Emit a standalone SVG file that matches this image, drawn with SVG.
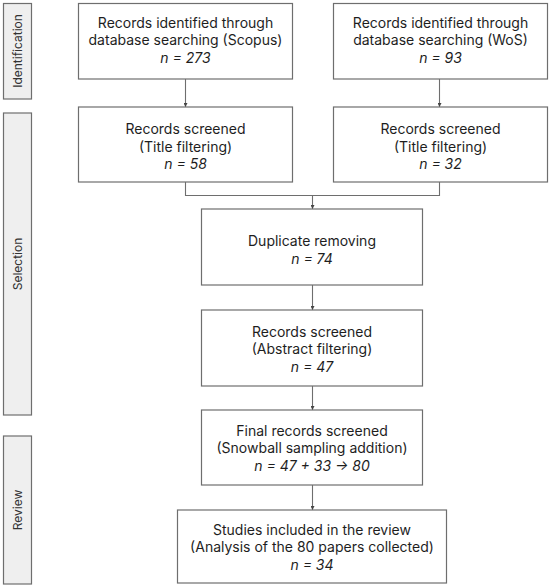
<svg xmlns="http://www.w3.org/2000/svg" width="550" height="587" viewBox="0 0 550 587">
<defs>
<style>
.box{fill:#fff;stroke:#6e6e6e;stroke-width:1.2}
.lab{fill:#efefef;stroke:#6e6e6e;stroke-width:1.2}
.t{font-family:Inter,"Liberation Sans",sans-serif;font-size:14px;fill:#1e1e1e;text-anchor:middle}
.n{font-style:italic}
.lt{font-family:Inter,"Liberation Sans",sans-serif;font-size:12px;fill:#333;text-anchor:middle}
.c{fill:none;stroke:#6e6e6e;stroke-width:1.1}
</style>
<marker id="ah" markerWidth="4" markerHeight="4" refX="4" refY="2" orient="auto" markerUnits="userSpaceOnUse">
<path d="M0,0 L4,2 L0,4 Z" fill="#444"/>
</marker>
</defs>
<rect width="550" height="587" fill="#fff"/>
<g id="label-identification">
<rect class="lab" x="3.5" y="3.5" width="28" height="95.5"/>
<text class="lt" transform="translate(21.5,51) rotate(-90)">Identification</text>
</g>
<g id="label-selection">
<rect class="lab" x="3.5" y="113" width="28" height="302"/>
<text class="lt" transform="translate(21.5,264) rotate(-90)">Selection</text>
</g>
<g id="label-review">
<rect class="lab" x="3.5" y="436" width="28" height="148"/>
<text class="lt" transform="translate(21.5,510) rotate(-90)">Review</text>
</g>
<g id="connectors">
<line class="c" x1="185.5" y1="79" x2="185.5" y2="107" marker-end="url(#ah)"/>
<line class="c" x1="439.5" y1="79" x2="439.5" y2="107" marker-end="url(#ah)"/>
<polyline class="c" points="185.5,182 185.5,195.5 439.5,195.5 439.5,182"/>
<line class="c" x1="312.5" y1="195.5" x2="312.5" y2="209" marker-end="url(#ah)"/>
<line class="c" x1="312.5" y1="285" x2="312.5" y2="310" marker-end="url(#ah)"/>
<line class="c" x1="312.5" y1="386" x2="312.5" y2="410" marker-end="url(#ah)"/>
<line class="c" x1="312.5" y1="485" x2="312.5" y2="510" marker-end="url(#ah)"/>
</g>
<g id="scopus">
<rect class="box" x="78.5" y="3.5" width="214" height="75.5"/>
<text class="t" x="185.5" y="27.5">Records identified through</text>
<text class="t" x="185.5" y="45">database searching (Scopus)</text>
<text class="t n" x="185.5" y="62.5">n = 273</text>
</g>
<g id="wos">
<rect class="box" x="333.5" y="3.5" width="214" height="75.5"/>
<text class="t" x="440.5" y="27.5">Records identified through</text>
<text class="t" x="440.5" y="45">database searching (WoS)</text>
<text class="t n" x="440.5" y="62.5">n = 93</text>
</g>
<g id="title-scopus">
<rect class="box" x="78.5" y="107" width="214" height="75"/>
<text class="t" x="185.5" y="134">Records screened</text>
<text class="t" x="185.5" y="151.5">(Title filtering)</text>
<text class="t n" x="185.5" y="169">n = 58</text>
</g>
<g id="title-wos">
<rect class="box" x="333.5" y="107" width="214" height="75"/>
<text class="t" x="440.5" y="134">Records screened</text>
<text class="t" x="440.5" y="151.5">(Title filtering)</text>
<text class="t n" x="440.5" y="169">n = 32</text>
</g>
<g id="duplicate">
<rect class="box" x="201.5" y="209" width="221" height="76"/>
<text class="t" x="312" y="246">Duplicate removing</text>
<text class="t n" x="312" y="264">n = 74</text>
</g>
<g id="abstract">
<rect class="box" x="201.5" y="310" width="221" height="76"/>
<text class="t" x="312" y="336.5">Records screened</text>
<text class="t" x="312" y="354">(Abstract filtering)</text>
<text class="t n" x="312" y="371.5">n = 47</text>
</g>
<g id="final">
<rect class="box" x="201.5" y="410" width="221" height="75"/>
<text class="t" x="312" y="435.5">Final records screened</text>
<text class="t" x="312" y="453">(Snowball sampling addition)</text>
<text class="t n" x="312" y="470.5">n = 47 + 33 → 80</text>
</g>
<g id="studies">
<rect class="box" x="177.5" y="510" width="269" height="73"/>
<text class="t" x="312" y="534.5">Studies included in the review</text>
<text class="t" x="312" y="552">(Analysis of the 80 papers collected)</text>
<text class="t n" x="312" y="569.5">n = 34</text>
</g>
</svg>
